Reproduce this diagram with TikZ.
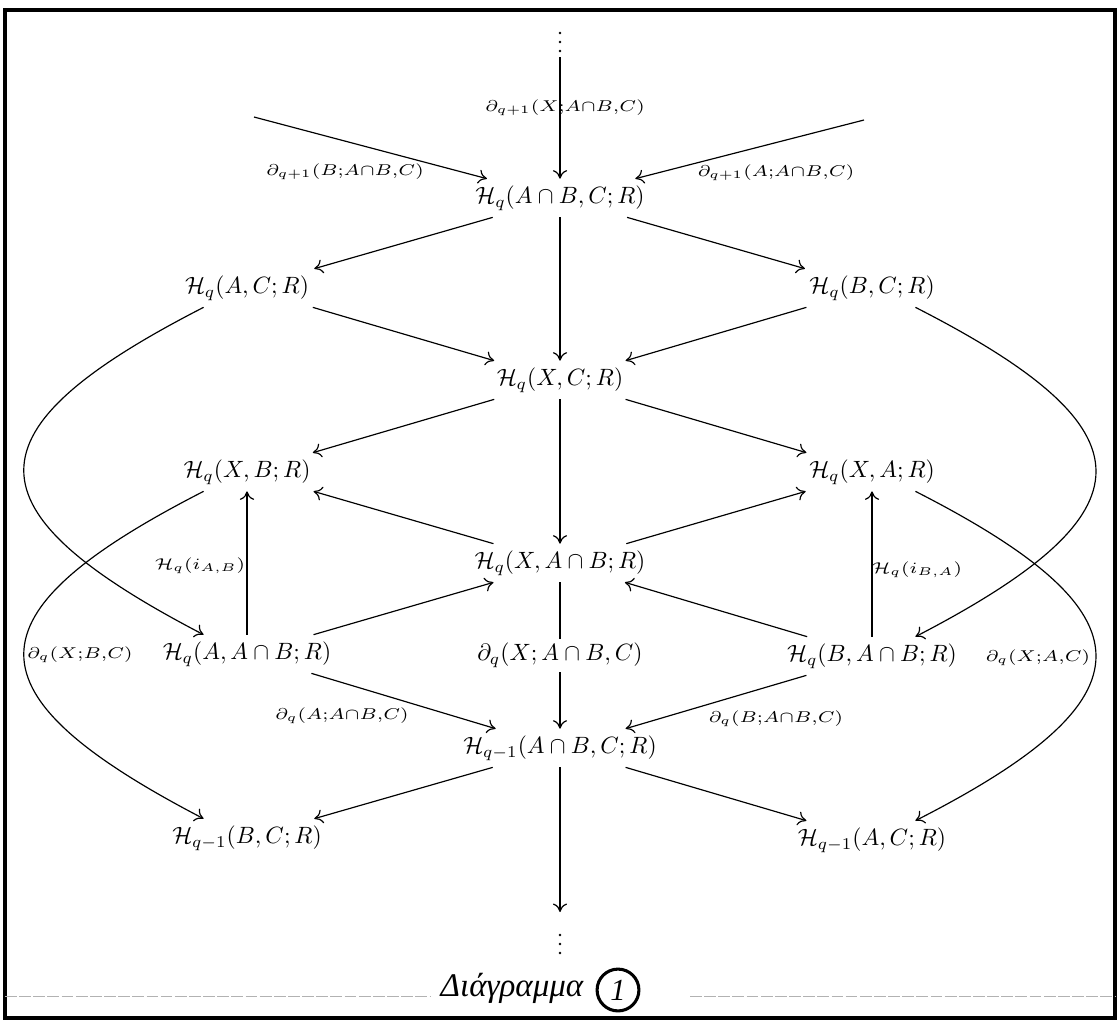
\documentclass[tikz,border=0pt]{standalone}
\usepackage{fontspec}
\usepackage{amsmath}
\usepackage{graphicx}
\usetikzlibrary{arrows.meta}
\newfontfamily\greekhand{Liberation Serif}
\newcommand{\lb}[1]{\scalebox{1.15}[0.95]{\scriptsize$#1$}}
\begin{document}
\begin{tikzpicture}[x=0.424pt,y=-0.424pt,
  obj/.style={inner sep=3pt, text height=7.5pt, text depth=2.5pt},
  arr/.style={-{To[length=3.6pt,width=6pt]}, line width=0.5pt},
  lbl/.style={inner sep=0pt},
  frameline/.style={line width=1.6pt},
  numcirc/.style={draw, circle, line width=1.3pt, inner sep=2.5pt, font=\fontsize{13}{15}\selectfont\greekhand\itshape}]
\useasboundingbox (0,0) rectangle (1120,1023);
% frame
\draw[frameline] (5,10) rectangle (1115,1018);
\draw[gray!60, line width=0.25pt, dash pattern=on 5pt off 1pt] (5,996) -- (430,996);
\draw[gray!60, line width=0.25pt, dash pattern=on 5pt off 1pt] (690,996) -- (1115,996);

% nodes
\node[obj] (n1)  at (560,198) {$\mathcal{H}_q(A\cap B, C; R)$};
\node[obj] (AC)  at (247,288) {$\mathcal{H}_q(A, C; R)$};
\node[obj] (BC)  at (872,288) {$\mathcal{H}_q(B, C; R)$};
\node[obj] (XC)  at (560,380) {$\mathcal{H}_q(X, C; R)$};
\node[obj] (XB)  at (247,472) {$\mathcal{H}_q(X, B; R)$};
\node[obj] (XA)  at (872,472) {$\mathcal{H}_q(X, A; R)$};
\node[obj] (XAB) at (560,563) {$\mathcal{H}_q(X, A\cap B; R)$};
\node[obj] (AAB) at (247,654) {$\mathcal{H}_q(A, A\cap B; R)$};
\node[obj] (BAB) at (872,656) {$\mathcal{H}_q(B, A\cap B; R)$};
\node[obj] (n2)  at (560,748) {$\mathcal{H}_{q-1}(A\cap B, C; R)$};
\node[obj] (BC1) at (247,838) {$\mathcal{H}_{q-1}(B, C; R)$};
\node[obj] (AC1) at (872,840) {$\mathcal{H}_{q-1}(A, C; R)$};

% free ends
\foreach \yy in {33,42,51} \fill (560,\yy) circle (0.6pt);
\foreach \yy in {935,944,953} \fill (560,\yy) circle (0.6pt);
\coordinate (ttop) at (560,57);
\coordinate (tl) at (254,117);
\coordinate (tr) at (864,120);
\coordinate (bend) at (560,912);

% straight arrows
\draw[arr] (ttop) -- (n1);
\draw[arr] (tl) -- (n1);
\draw[arr] (tr) -- (n1);
\draw[arr] (n1) -- (AC);
\draw[arr] (n1) -- (BC);
\draw[arr] (n1) -- (XC);
\draw[arr] (AC) -- (XC);
\draw[arr] (BC) -- (XC);
\draw[arr] (XC) -- (XB);
\draw[arr] (XC) -- (XA);
\draw[arr] (XC) -- (XAB);
\draw[arr] (XAB) -- (XB);
\draw[arr] (XAB) -- (XA);
\draw[arr] (AAB) -- (XB);
\draw[arr] (BAB) -- (XA);
\draw[arr] (AAB) -- (XAB);
\draw[arr] (BAB) -- (XAB);
\draw[arr] (XAB) -- (n2) node[midway, fill=white, inner sep=2pt] (lXAB) {$\partial_q(X; A\cap B, C)$};
\draw[arr] (AAB) -- (n2);
\draw[arr] (BAB) -- (n2);
\draw[arr] (n2) -- (BC1);
\draw[arr] (n2) -- (AC1);
\draw[arr] (n2) -- (bend);

% curved arrows
\draw[arr] (AC.204) .. controls (-36,430) and (-36,510) .. (AAB.156);
\draw[arr] (XB.204) .. controls (-36,614) and (-36,694) .. (BC1.156);
\draw[arr] (BC.336) .. controls (1156,430) and (1156,512) .. (BAB.24);
\draw[arr] (XA.336) .. controls (1156,614) and (1156,698) .. (AC1.24);

% labels
\node[lbl] (lX1)  at (565,108) {\lb{\partial_{q+1}(X{;}A{\cap}B{,}C)}};
\node[lbl] (lB1)  at (345,172) {\lb{\partial_{q+1}(B{;}A{\cap}B{,}C)}};
\node[lbl] (lA1)  at (776,173) {\lb{\partial_{q+1}(A{;}A{\cap}B{,}C)}};
\node[lbl] (liAB) at (200,566) {\lb{\mathcal{H}_q(i_{A,B})}};
\node[lbl] (liBA) at (917,570) {\lb{\mathcal{H}_q(i_{B,A})}};
\node[lbl] (lXBC) at (80,655)  {\lb{\partial_q(X{;}B{,}C)}};
\node[lbl] (lXAC) at (1038,658) {\lb{\partial_q(X{;}A{,}C)}};
\node[lbl] (lA)   at (342,716) {\lb{\partial_q(A{;}A{\cap}B{,}C)}};
\node[lbl] (lB)   at (776,719) {\lb{\partial_q(B{;}A{\cap}B{,}C)}};

% caption
\node[inner sep=0pt, font=\fontsize{14}{16}\selectfont\greekhand\itshape] (cap) at (512,988) {Διάγραμμα};
\node[numcirc] (num) at (618,990) {1};
\end{tikzpicture}
\end{document}
